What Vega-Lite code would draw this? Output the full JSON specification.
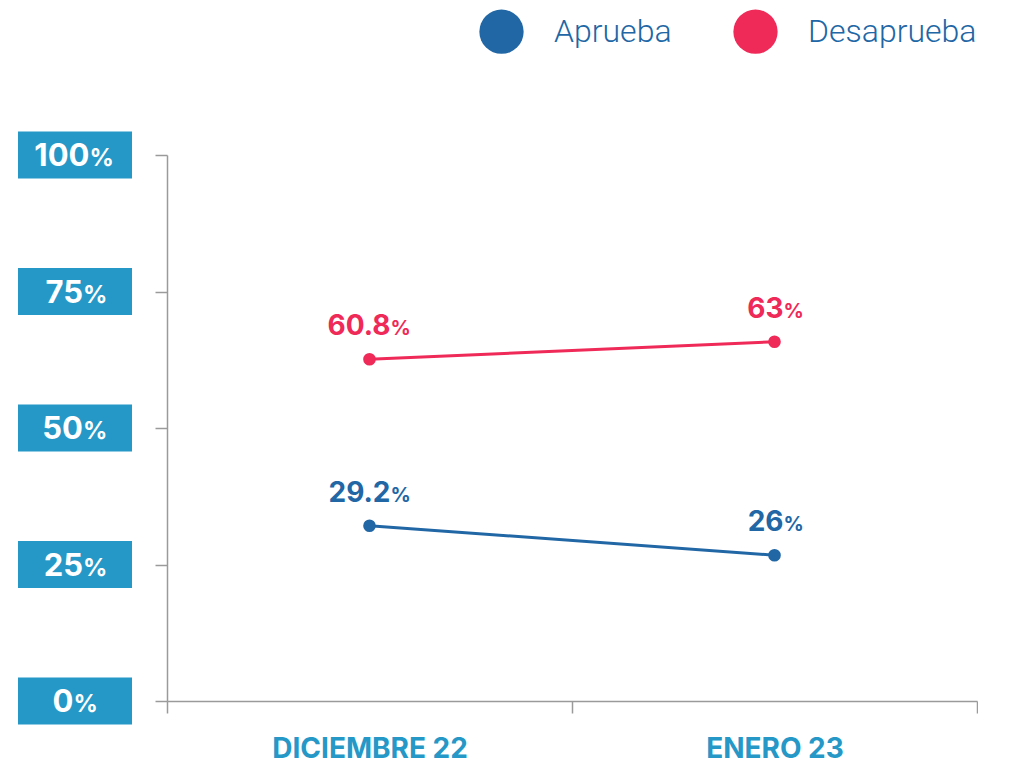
{
  "$schema": "https://vega.github.io/schema/vega-lite/v6.json",
  "padding": {"left": 18, "top": 9, "right": 0, "bottom": 0},
  "spacing": 35,
  "bounds": "flush",
  "config": {"view": {"stroke": null}, "font": "Inter"},
  "datasets": {
    "ejes": [
      {"v": 0, "t": "0"},
      {"v": 25, "t": "25"},
      {"v": 50, "t": "50"},
      {"v": 75, "t": "75"},
      {"v": 100, "t": "100"}
    ],
    "serie": [
      {"periodo": "DICIEMBRE 22", "serie": "Aprueba", "valor": 32.1, "etiqueta": "29.2"},
      {"periodo": "ENERO 23", "serie": "Aprueba", "valor": 26.7, "etiqueta": "26"},
      {"periodo": "DICIEMBRE 22", "serie": "Desaprueba", "valor": 62.6, "etiqueta": "60.8"},
      {"periodo": "ENERO 23", "serie": "Desaprueba", "valor": 65.8, "etiqueta": "63"}
    ]
  },
  "hconcat": [
    {
      "width": 114,
      "height": 546,
      "data": {"name": "ejes"},
      "encoding": {
        "y": {"field": "v", "type": "quantitative", "scale": {"domain": [0, 100], "nice": false}, "axis": null}
      },
      "layer": [
        {
          "mark": {"type": "tick", "orient": "horizontal", "size": 114, "thickness": 47, "color": "#2598c7", "opacity": 1}
        },
        {
          "mark": {"type": "text", "align": "right", "baseline": "alphabetic", "dy": 11, "dx": {"expr": "length(datum.t) == 1 ? -1.5 : (length(datum.t) == 2 ? 8 : 14.5)"}, "font": "Inter", "fontWeight": "bold", "fontSize": 31, "color": "#ffffff"},
          "encoding": {"text": {"field": "t"}}
        },
        {
          "mark": {"type": "text", "align": "left", "baseline": "alphabetic", "dy": 11, "dx": {"expr": "length(datum.t) == 1 ? -1.5 : (length(datum.t) == 2 ? 8 : 14.5)"}, "font": "Inter", "fontWeight": "bold", "fontSize": 24, "color": "#ffffff"},
          "encoding": {"text": {"value": "%"}}
        }
      ]
    },
    {
      "width": 810,
      "height": 546,
      "data": {"name": "serie"},
      "encoding": {
        "x": {
          "field": "periodo", "type": "nominal", "sort": ["DICIEMBRE 22", "ENERO 23"],
          "scale": {"type": "band", "paddingInner": 0, "paddingOuter": 0},
          "axis": {"title": null, "labelAngle": 0, "labelLimit": 0, "tickBand": "extent", "labelFont": "Inter", "labelFontWeight": "bold", "labelFontSize": 28, "labelColor": "#2598c7", "labelPadding": 22, "tickSize": 12, "domainColor": "#9a9a9a", "tickColor": "#9a9a9a", "domainWidth": 1.5, "tickWidth": 1.5, "grid": false}
        },
        "y": {
          "field": "valor", "type": "quantitative",
          "scale": {"domain": [0, 100], "nice": false},
          "axis": {"title": null, "values": [0, 25, 50, 75, 100], "labels": false, "tickSize": 12, "domainColor": "#9a9a9a", "tickColor": "#9a9a9a", "domainWidth": 1.5, "tickWidth": 1.5, "grid": false, "minExtent": 0, "maxExtent": 12}
        },
        "color": {
          "field": "serie", "type": "nominal",
          "scale": {"domain": ["Aprueba", "Desaprueba"], "range": ["#2166a5", "#ef2958"]},
          "legend": {"title": null, "orient": "none", "legendX": 461, "legendY": -146, "direction": "horizontal", "symbolType": "circle", "symbolSize": 1960, "symbolStrokeWidth": 0, "symbolOpacity": 1, "labelFont": "Roboto", "labelFontWeight": 300, "labelFontSize": 32, "labelLimit": 0, "labelColor": "#2166a5", "labelOffset": 30, "columnPadding": 61, "padding": 0}
        }
      },
      "layer": [
        {
          "mark": {"type": "line", "strokeWidth": 3}
        },
        {
          "mark": {"type": "point", "filled": true, "size": 160, "opacity": 1}
        },
        {
          "mark": {"type": "text", "align": "right", "baseline": "alphabetic", "dy": -24, "dx": {"expr": "length(datum.etiqueta) == 2 ? 9 : 21"}, "font": "Inter", "fontWeight": "bold", "fontSize": 28},
          "encoding": {"text": {"field": "etiqueta"}}
        },
        {
          "mark": {"type": "text", "align": "left", "baseline": "alphabetic", "dy": -24, "dx": {"expr": "length(datum.etiqueta) == 2 ? 9 : 21"}, "font": "Inter", "fontWeight": "bold", "fontSize": 20},
          "encoding": {"text": {"value": "%"}}
        }
      ]
    }
  ]
}
